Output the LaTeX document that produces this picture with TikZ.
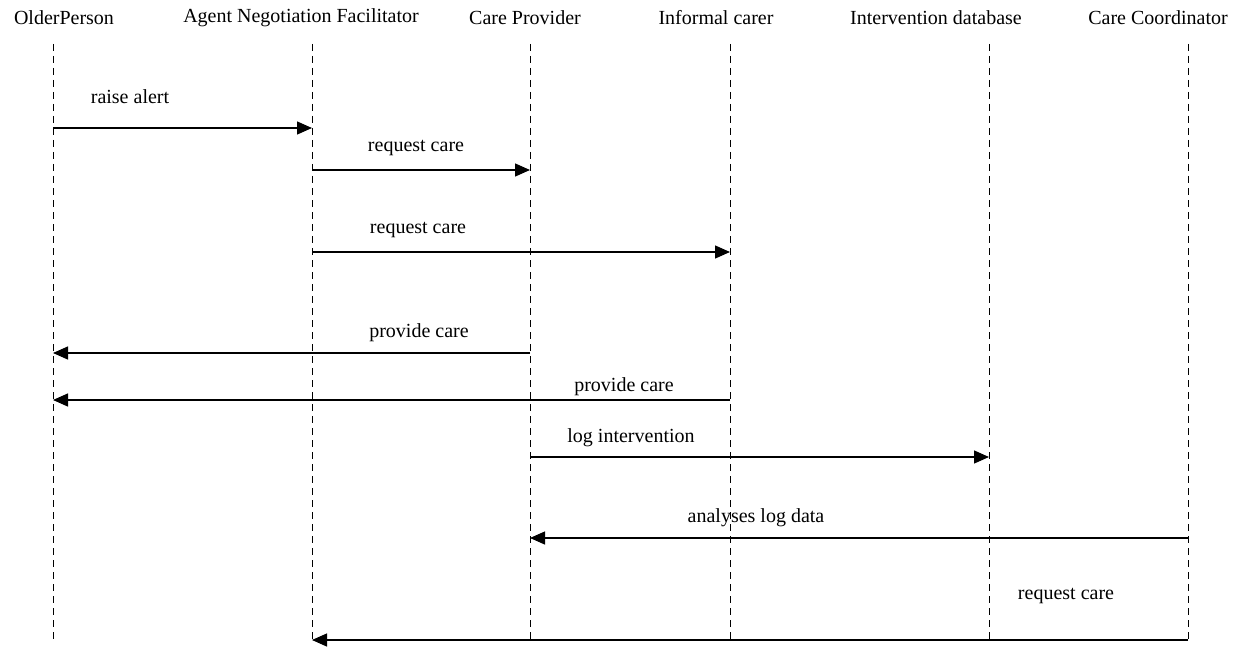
\documentclass[tikz,border=0pt]{standalone}
\usepackage{fontspec}
\setmainfont{Liberation Serif}
\usetikzlibrary{arrows.meta}
\begin{document}
\begin{tikzpicture}[x=1pt,y=-1pt,
  lifeline/.style={draw=black, line width=1pt, dash pattern=on 7pt off 5pt},
  msg/.style={draw=black, line width=1.3pt, -{Triangle[length=15pt,width=13pt]}},
  head/.style={font=\fontsize{20}{24}\selectfont, inner sep=0pt, anchor=center},
  lbl/.style={font=\fontsize{20}{24}\selectfont, inner sep=0pt, anchor=center}]
\useasboundingbox[fill=white] (0,0) rectangle (1246,647);
% headers
\node[head] (hOP)  at (64,18)   {OlderPerson};
\node[head] (hANF) at (301,18)  {Agent Negotiation Facilitator};
\node[head] (hCP)  at (525,18)  {Care Provider};
\node[head] (hIC)  at (716,18)  {Informal carer};
\node[head] (hID)  at (936,18)  {Intervention database};
\node[head] (hCC)  at (1158,18) {Care Coordinator};
% lifeline ends
\coordinate (opT) at (53,44);   \coordinate (opB) at (53,641);
\coordinate (anfT) at (312,44); \coordinate (anfB) at (312,641);
\coordinate (cpT) at (530,44);  \coordinate (cpB) at (530,641);
\coordinate (icT) at (730,44);  \coordinate (icB) at (730,641);
\coordinate (idT) at (989,44);  \coordinate (idB) at (989,641);
\coordinate (ccT) at (1188,44); \coordinate (ccB) at (1188,641);
\foreach \l in {op,anf,cp,ic,id,cc} {\draw[lifeline] (\l T) -- (\l B);}
% message levels
\coordinate (y1) at (0,128);
\coordinate (y2) at (0,170);
\coordinate (y3) at (0,252);
\coordinate (y4) at (0,353);
\coordinate (y5) at (0,400);
\coordinate (y6) at (0,457);
\coordinate (y7) at (0,538);
\coordinate (y8) at (0,640);
% messages
\draw[msg] (opT |- y1) -- (anfT |- y1);
\draw[msg] (anfT |- y2) -- (cpT |- y2);
\draw[msg] (anfT |- y3) -- (icT |- y3);
\draw[msg] (cpT |- y4) -- (opT |- y4);
\draw[msg] (icT |- y5) -- (opT |- y5);
\draw[msg] (cpT |- y6) -- (idT |- y6);
\draw[msg] (ccT |- y7) -- (cpT |- y7);
\draw[msg] (ccT |- y8) -- (anfT |- y8);
% labels
\node[lbl] (l1) at (130,97)  {raise alert};
\node[lbl] (l2) at (416,148) {request care};
\node[lbl] (l3) at (418,230) {request care};
\node[lbl] (l4) at (419,333) {provide care};
\node[lbl] (l5) at (624,387) {provide care};
\node[lbl] (l6) at (631,438) {log intervention};
\node[lbl] (l7) at (756,518) {analyses log data};
\node[lbl] (l8) at (1066,596) {request care};
\end{tikzpicture}
\end{document}
